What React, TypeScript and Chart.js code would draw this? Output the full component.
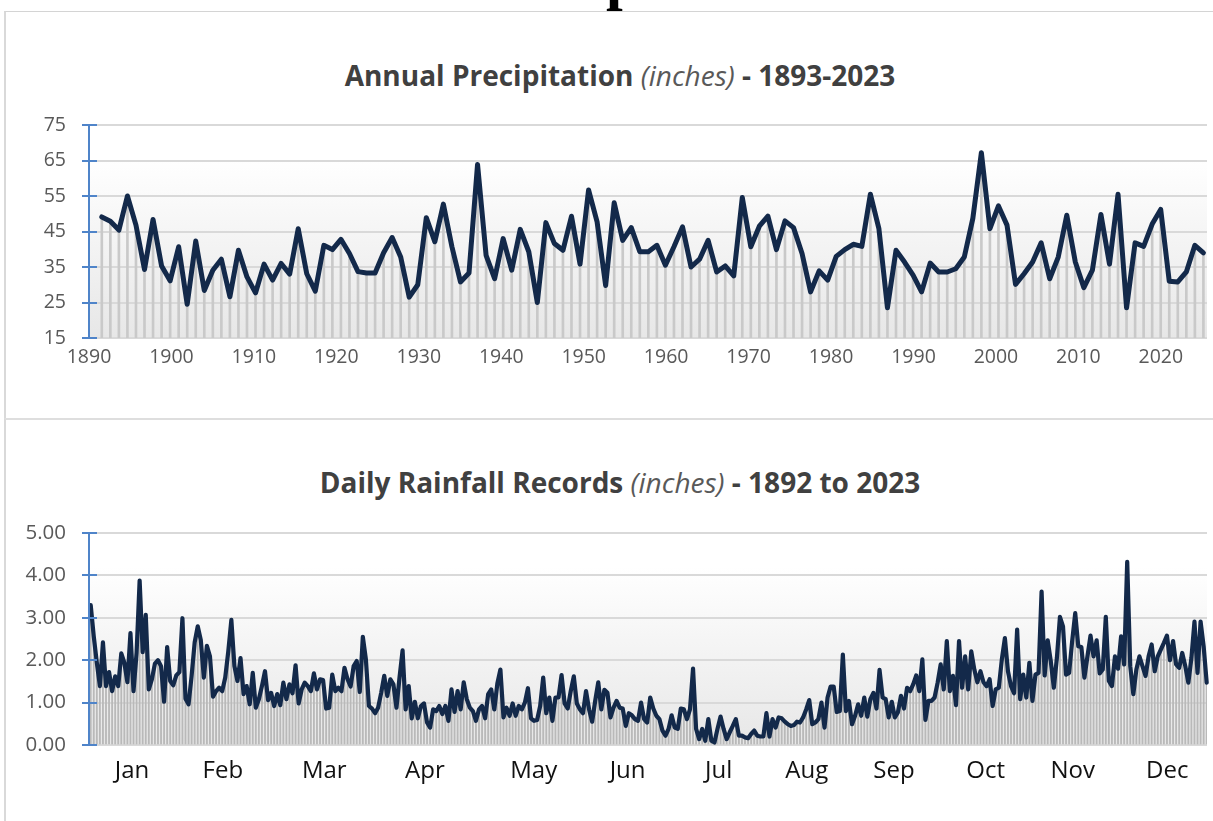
import React, { useEffect, useRef } from 'react';
import { Chart, registerables } from 'chart.js';

Chart.register(...registerables);

// ---------- Annual precipitation (inches) ----------
const annualFirstYear = 1893;
const annualPrecip = [
  49.1, 47.9, 45.4, 55.0, 46.8, 34.3, 48.4, 35.3, 31.1, 40.7,
  24.5, 42.3, 28.4, 34.1, 37.2, 26.6, 39.7, 32.2, 27.7, 35.8,
  31.3, 36.0, 33.0, 45.8, 33.1, 28.2, 41.1, 39.9, 42.8, 38.8,
  33.7, 33.3, 33.3, 39.0, 43.3, 37.8, 26.5, 30.0, 48.9, 42.1,
  52.7, 40.7, 30.8, 33.3, 63.9, 38.3, 31.7, 43.0, 34.1, 45.6,
  39.3, 25.0, 47.5, 41.6, 39.7, 49.3, 35.8, 56.7, 47.7, 29.8,
  53.1, 42.5, 46.1, 39.3, 39.3, 41.1, 35.5, 40.7, 46.3, 35.0,
  37.2, 42.5, 33.6, 35.3, 32.5, 54.6, 40.7, 46.5, 49.3, 39.9,
  48.0, 46.1, 38.8, 28.0, 33.9, 31.3, 38.0, 39.9, 41.4, 40.8,
  55.5, 45.8, 23.5, 39.7, 36.4, 32.7, 28.0, 36.1, 33.6, 33.6,
  34.5, 37.8, 48.7, 67.2, 45.8, 52.2, 46.8, 30.1, 33.1, 36.4,
  41.8, 31.7, 37.8, 49.6, 36.4, 29.2, 34.1, 49.8, 35.8, 55.5,
  23.5, 41.8, 40.8, 47.1, 51.2, 31.0, 30.8, 33.6, 41.1, 39.0,
];
const decadeTicks = [1890, 1900, 1910, 1920, 1930, 1940, 1950, 1960, 1970, 1980, 1990, 2000, 2010, 2020];
const annualYTicks = [15, 25, 35, 45, 55, 65, 75];

// ---------- Daily rainfall records (inches), day 1..366 ----------
const dailyRecords = [
  3.30, 2.56, 1.94, 1.39, 2.42, 1.39, 1.72, 1.27, 1.62, 1.39,
  2.16, 1.94, 1.48, 2.64, 1.27, 2.17, 3.88, 2.19, 3.07, 1.31,
  1.55, 1.92, 2.00, 1.86, 1.02, 2.31, 1.51, 1.41, 1.64, 1.72,
  2.99, 1.09, 0.96, 1.63, 2.42, 2.80, 2.48, 1.59, 2.34, 2.09,
  1.14, 1.27, 1.35, 1.27, 1.59, 2.21, 2.95, 1.86, 1.51, 2.05,
  1.20, 1.39, 0.96, 1.70, 0.88, 1.08, 1.39, 1.74, 1.06, 1.23,
  0.92, 1.20, 0.94, 1.47, 1.08, 1.43, 1.22, 1.88, 0.98, 1.31,
  1.47, 1.39, 1.27, 1.69, 1.31, 1.55, 1.53, 0.86, 0.88, 1.66,
  1.27, 1.35, 1.27, 1.82, 1.55, 1.38, 1.86, 1.98, 1.25, 2.55,
  2.02, 0.92, 0.86, 0.75, 0.88, 1.23, 1.63, 1.16, 1.55, 1.43,
  0.88, 1.59,
  2.23, 0.84, 1.39, 0.63, 1.02, 0.63, 0.92, 0.98, 0.53, 0.41,
  0.84, 0.80, 0.92, 0.73, 0.92, 0.57, 1.31, 0.78, 1.27, 0.84,
  1.48, 1.08, 0.88, 0.80, 0.57, 0.84, 0.92, 0.63, 1.20, 1.31,
  0.84, 1.45, 1.78, 0.65, 0.88, 0.69, 0.98, 0.69, 0.92, 0.84,
  1.00, 1.34, 0.63, 0.57, 0.59, 0.92, 1.59, 0.75, 1.12, 0.57,
  1.12, 1.12, 1.65, 0.98, 0.86, 1.27, 1.62, 0.98, 0.84, 0.75,
  1.27, 0.84, 0.55, 1.04, 1.48, 0.84, 1.30, 1.23, 0.65, 0.88,
  1.04, 0.88, 0.86, 0.45, 0.75, 0.70, 0.61, 0.57, 1.00, 0.61,
  0.53, 1.12, 0.86, 0.69, 0.61, 0.34, 0.22, 0.38, 0.70, 0.41,
  0.38, 0.86, 0.84, 0.61, 0.84, 1.80, 0.38, 0.14, 0.38, 0.10,
  0.61, 0.10, 0.06, 0.38, 0.67, 0.38, 0.14, 0.30, 0.45, 0.61,
  0.22, 0.22, 0.18, 0.16, 0.26, 0.34, 0.22, 0.20, 0.20, 0.75,
  0.20, 0.61, 0.41, 0.65, 0.63, 0.55, 0.49, 0.45, 0.47, 0.55,
  0.53, 0.65, 0.84, 1.06, 0.49, 0.53, 0.61, 1.00, 0.41, 1.12,
  1.38, 1.38, 0.78, 0.80, 2.13, 0.80, 1.04, 0.49, 0.69, 0.96,
  0.69, 1.12, 0.67, 1.08, 1.23, 0.86, 1.77, 1.12, 1.08, 0.65,
  1.02, 0.65, 0.77, 1.16, 0.86, 1.35, 1.27, 1.43, 1.64, 1.27,
  2.02, 0.59, 1.04, 1.04, 1.12, 1.47, 1.90, 1.31, 2.45, 1.27,
  1.63, 0.94, 2.45, 1.35, 2.09, 1.31, 2.21, 1.78, 1.48, 1.74,
  1.48, 1.39, 1.55, 0.92, 1.31, 1.35, 2.02, 2.52, 1.74, 1.39,
  1.22, 2.72, 1.08, 1.66, 1.12, 1.94, 1.04, 1.66, 1.70, 3.62,
  1.64, 2.47, 1.98, 1.35, 2.05, 3.02, 2.80, 1.66, 1.70, 2.45,
  3.11, 2.33, 2.31, 1.59, 2.09, 2.58, 2.09, 2.47, 1.69, 1.78,
  3.02, 1.51, 1.39, 2.09, 1.80, 2.56, 1.90, 4.32, 1.86, 1.20,
  1.78, 2.09, 1.86, 1.63, 2.09, 2.37, 1.74, 2.09, 2.25, 2.41,
  2.58, 2.00, 2.45, 1.90, 1.82, 2.17, 1.86, 1.47, 2.05, 2.91,
  1.70, 2.91, 2.33, 1.47,
];
const monthNames = ['Jan', 'Feb', 'Mar', 'Apr', 'May', 'Jun', 'Jul', 'Aug', 'Sep', 'Oct', 'Nov', 'Dec'];
const monthLabelDays = [14.5, 44.2, 77.4, 110.3, 145.9, 176.6, 206.4, 235.2, 263.7, 293.7, 322.2, 353.1];
const dailyYTicks = [0, 1, 2, 3, 4, 5];

// ---------- styles ----------
const FONT = '"Open Sans", "DejaVu Sans", sans-serif';
const AXIS_BLUE = '#4f84c9';
const GRID = '#d9d9d9';
const LINE = '#13294a';
const LABEL_GRAY = '#595959';

const bgPlugin = {
  id: 'plotBg',
  beforeDraw(chart: any) {
    const { ctx, chartArea: a } = chart;
    const g = ctx.createLinearGradient(0, a.top, 0, a.bottom);
    g.addColorStop(0, '#ffffff');
    g.addColorStop(0.16, '#ffffff');
    g.addColorStop(1, '#e7e7e7');
    ctx.save();
    ctx.fillStyle = g;
    ctx.fillRect(a.left, a.top, a.right - a.left, a.bottom - a.top);
    ctx.restore();
  },
};

const crossTickPlugin = {
  id: 'crossTicks',
  afterDraw(chart: any) {
    const { ctx, chartArea: a } = chart;
    const ys = chart.scales.y;
    ctx.save();
    ctx.strokeStyle = AXIS_BLUE;
    ctx.lineWidth = 2;
    ctx.beginPath();
    ctx.moveTo(a.left, a.top);
    ctx.lineTo(a.left, a.bottom);
    ys.ticks.forEach((t: any) => {
      const py = Math.round(ys.getPixelForValue(t.value));
      ctx.moveTo(a.left - 7, py);
      ctx.lineTo(a.left + 8, py);
    });
    ctx.stroke();
    ctx.restore();
  },
};

function AnnualChart() {
  const ref = useRef<HTMLCanvasElement | null>(null);
  useEffect(() => {
    if (!ref.current) return;
    const pts = annualPrecip.map((v, i) => ({ x: annualFirstYear + i, y: v }));
    const chart = new Chart(ref.current, {
      type: 'bar',
      data: {
        datasets: [
          {
            type: 'line',
            data: pts,
            xAxisID: 'xd',
            yAxisID: 'y',
            borderColor: LINE,
            borderWidth: 5,
            pointRadius: 0,
            tension: 0,
            borderJoinStyle: 'round',
            borderCapStyle: 'round',
            order: 1,
            clip: 10,
          } as any,
          {
            type: 'bar',
            data: pts,
            xAxisID: 'xd',
            yAxisID: 'y',
            backgroundColor: '#c9c9c9',
            barThickness: 2,
            order: 2,
          } as any,
        ],
      },
      options: {
        responsive: false,
        animation: false,
        events: [],
        layout: { padding: { left: 0, right: 6, top: 125, bottom: 0 } },
        plugins: { legend: { display: false }, tooltip: { enabled: false }, title: { display: false } },
        scales: {
          x: {
            type: 'linear',
            position: 'bottom',
            offset: false,
            min: 1890,
            max: 2025.6,
            afterBuildTicks: (s: any) => { s.ticks = decadeTicks.map((v) => ({ value: v })); },
            afterFit: (s: any) => { s.height = 80; },
            grid: { display: false, drawTicks: false, offset: false },
            border: { display: false },
            ticks: {
              autoSkip: false,
              maxRotation: 0,
              padding: 8,
              color: LABEL_GRAY,
              font: { family: FONT, size: 19.5 },
              callback: (v: any) => String(v),
            },
          },
          xd: { type: 'linear', display: false, offset: false, grid: { offset: false }, min: 1891.5, max: 2022.42 },
          y: {
            type: 'linear',
            min: 15,
            max: 75,
            afterBuildTicks: (s: any) => { s.ticks = annualYTicks.map((v) => ({ value: v })); },
            afterFit: (s: any) => { s.width = 89; },
            grid: { color: GRID, lineWidth: 2, tickLength: 7, tickColor: AXIS_BLUE, tickWidth: 2 },
            border: { color: AXIS_BLUE, width: 2 },
            ticks: {
              padding: 16,
              color: LABEL_GRAY,
              font: { family: FONT, size: 19.5 },
              callback: (v: any) => String(v),
            },
          },
        },
      } as any,
      plugins: [bgPlugin, crossTickPlugin],
    });
    return () => chart.destroy();
  }, []);
  return <canvas ref={ref} width={1213} height={418} style={{ position: 'absolute', left: 0, top: 0, width: 1213, height: 418 }} />;
}

function DailyChart() {
  const ref = useRef<HTMLCanvasElement | null>(null);
  useEffect(() => {
    if (!ref.current) return;
    const pts = dailyRecords.map((v, i) => ({ x: i + 1, y: v }));
    const chart = new Chart(ref.current, {
      type: 'bar',
      data: {
        datasets: [
          {
            type: 'line',
            data: pts,
            borderColor: LINE,
            borderWidth: 4.2,
            pointRadius: 0,
            tension: 0,
            borderJoinStyle: 'round',
            borderCapStyle: 'round',
            order: 1,
            clip: 10,
          } as any,
          {
            type: 'bar',
            data: pts,
            backgroundColor: '#b9b9b9',
            barThickness: 1.2,
            order: 2,
          } as any,
        ],
      },
      options: {
        responsive: false,
        animation: false,
        events: [],
        layout: { padding: { left: 0, right: 6, top: 115, bottom: 0 } },
        plugins: { legend: { display: false }, tooltip: { enabled: false }, title: { display: false } },
        scales: {
          x: {
            type: 'linear',
            position: 'bottom',
            offset: false,
            min: 0.44,
            max: 366.1,
            afterBuildTicks: (s: any) => { s.ticks = monthLabelDays.map((v) => ({ value: v })); },
            afterFit: (s: any) => { s.height = 76; },
            grid: { display: false, drawTicks: false, offset: false },
            border: { display: false },
            ticks: {
              autoSkip: false,
              maxRotation: 0,
              padding: 12,
              color: '#111111',
              font: { family: FONT, size: 24 },
              callback: (_v: any, i: number) => monthNames[i],
            },
          },
          y: {
            type: 'linear',
            min: 0,
            max: 5,
            afterBuildTicks: (s: any) => { s.ticks = dailyYTicks.map((v) => ({ value: v })); },
            afterFit: (s: any) => { s.width = 89; },
            grid: { color: GRID, lineWidth: 2, tickLength: 7, tickColor: AXIS_BLUE, tickWidth: 2 },
            border: { color: AXIS_BLUE, width: 2 },
            ticks: {
              padding: 16,
              color: LABEL_GRAY,
              font: { family: FONT, size: 20.5 },
              callback: (v: any) => Number(v).toFixed(2),
            },
          },
        },
      } as any,
      plugins: [bgPlugin, crossTickPlugin],
    });
    return () => chart.destroy();
  }, []);
  return <canvas ref={ref} width={1213} height={403} style={{ position: 'absolute', left: 0, top: 418, width: 1213, height: 403 }} />;
}

const titleStyle: React.CSSProperties = {
  position: 'absolute',
  left: 0,
  width: 1240,
  textAlign: 'center',
  fontFamily: FONT,
  fontSize: 28,
  lineHeight: '38px',
  color: '#404040',
  whiteSpace: 'nowrap',
};

export default function App() {
  return (
    <div style={{ position: 'fixed', left: 0, top: 0, width: 1213, height: 821, overflow: 'hidden', background: '#ffffff' }}>
      <div style={{ position: 'absolute', left: 606, top: -52, fontFamily: '"Liberation Serif", serif', fontWeight: 700, fontSize: 60, lineHeight: '60px', color: '#000' }}>p</div>
      <div style={{ position: 'absolute', left: 4, top: 11, width: 1300, height: 407, borderLeft: '2px solid #d9d9d9', borderTop: '1px solid #d4d4d4', boxSizing: 'border-box' }} />
      <div style={{ position: 'absolute', left: 4, top: 418, width: 1300, height: 500, borderLeft: '2px solid #d9d9d9', borderTop: '2px solid #dedede', boxSizing: 'border-box' }} />
      <div style={{ ...titleStyle, top: 56 }}>
        <span style={{ fontWeight: 700 }}>Annual Precipitation</span>{' '}
        <span style={{ fontStyle: 'italic', fontWeight: 400, color: '#595959' }}>(inches)</span>{' '}
        <span style={{ fontWeight: 700 }}>- 1893-2023</span>
      </div>
      <div style={{ ...titleStyle, top: 463 }}>
        <span style={{ fontWeight: 700 }}>Daily Rainfall Records</span>{' '}
        <span style={{ fontStyle: 'italic', fontWeight: 400, color: '#595959' }}>(inches)</span>{' '}
        <span style={{ fontWeight: 700 }}>- 1892 to 2023</span>
      </div>
      <AnnualChart />
      <DailyChart />
    </div>
  );
}
